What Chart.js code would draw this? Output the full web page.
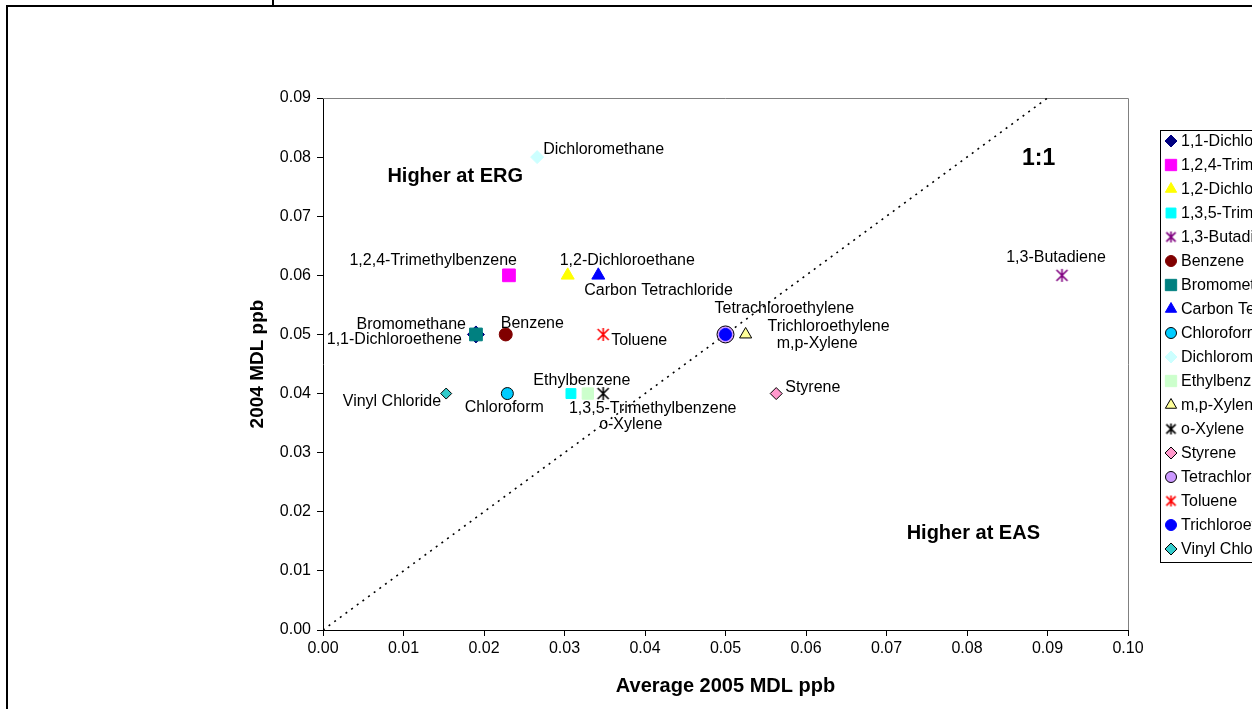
<!DOCTYPE html>
<html>
<head>
<meta charset="utf-8">
<script src="https://cdn.jsdelivr.net/npm/chart.js@4"></script>
<style>
  body { margin: 0; background: #ffffff; overflow: hidden; }
  canvas { display: block; }
</style>
</head>
<body>
<canvas id="mdlChart" width="1252" height="709"></canvas>
<script>
// Compounds, in legend order
const compounds = [
  "1,1-Dichloroethene", "1,2,4-Trimethylbenzene", "1,2-Dichloroethane",
  "1,3,5-Trimethylbenzene", "1,3-Butadiene", "Benzene", "Bromomethane",
  "Carbon Tetrachloride", "Chloroform", "Dichloromethane", "Ethylbenzene",
  "m,p-Xylene", "o-Xylene", "Styrene", "Tetrachloroethylene", "Toluene",
  "Trichloroethylene", "Vinyl Chloride",
];
// Average 2005 MDL (ppb)
const avg2005 = [
  0.019, 0.0231, 0.0304, 0.0308, 0.0918, 0.0227, 0.019, 0.0342, 0.0229,
  0.0266, 0.0329, 0.0525, 0.0348, 0.0563, 0.05, 0.0348, 0.05, 0.0153,
];
// 2004 MDL (ppb)
const mdl2004 = [
  0.05, 0.06, 0.06, 0.04, 0.06, 0.05, 0.05, 0.06, 0.04,
  0.08, 0.04, 0.05, 0.04, 0.04, 0.05, 0.05, 0.05, 0.04,
];
const xTicks = [0, 0.01, 0.02, 0.03, 0.04, 0.05, 0.06, 0.07, 0.08, 0.09, 0.1];
const yTicks = [0, 0.01, 0.02, 0.03, 0.04, 0.05, 0.06, 0.07, 0.08, 0.09];
const oneToOne = [{ x: 0, y: 0 }, { x: 0.09, y: 0.09 }];

// Excel-like asterisk marker (vertical bar + X)
function asterisk(color, r) {
  const c = document.createElement("canvas");
  const s = Math.ceil(2 * r + 4);
  c.width = s;
  c.height = s;
  const g = c.getContext("2d");
  const m = s / 2;
  g.strokeStyle = color;
  g.lineWidth = 1.6;
  g.beginPath();
  g.moveTo(m, m - r);
  g.lineTo(m, m + r);
  g.moveTo(m - r * 0.85, m - r * 0.85);
  g.lineTo(m + r * 0.85, m + r * 0.85);
  g.moveTo(m + r * 0.85, m - r * 0.85);
  g.lineTo(m - r * 0.85, m + r * 0.85);
  g.stroke();
  return c;
}

// marker look per compound (r = plot size, lr = legend size)
const markers = [
  { style: "rectRot", fill: "#000080", line: "#000080", r: 8.5, lr: 6 },
  { style: "rect", fill: "#ff00ff", line: "#ff00ff", r: 9, lr: 8 },
  { style: "triangle", fill: "#ffff00", line: "#ffff00", r: 7.5, lr: 6.5 },
  { style: "rect", fill: "#00ffff", line: "#00ffff", r: 7, lr: 7 },
  { style: asterisk("#800080", 6.5), legend: asterisk("#800080", 5.5), fill: "#800080", line: "#800080" },
  { style: "circle", fill: "#800000", line: "#800000", r: 6.5, lr: 5.5 },
  { style: "rect", fill: "#008080", line: "#008080", r: 9, lr: 8 },
  { style: "triangle", fill: "#0000ff", line: "#0000ff", r: 7.5, lr: 6.5 },
  { style: "circle", fill: "#00ccff", line: "#000000", r: 6, lr: 5.5 },
  { style: "rectRot", fill: "#ccffff", line: "#ccffff", r: 6.5, lr: 6 },
  { style: "rect", fill: "#ccffcc", line: "#ccffcc", r: 8, lr: 8 },
  { style: "triangle", fill: "#ffff99", line: "#000000", r: 7, lr: 6.5 },
  { style: asterisk("#000000", 6.5), legend: asterisk("#000000", 5.5), fill: "#000000", line: "#000000" },
  { style: "rectRot", fill: "#ff99cc", line: "#000000", r: 6, lr: 6 },
  { style: "circle", fill: "#cc99ff", line: "#000000", r: 8.5, lr: 5.5 },
  { style: asterisk("#ff0000", 6.5), legend: asterisk("#ff0000", 5.5), fill: "#ff0000", line: "#ff0000" },
  { style: "circle", fill: "#0000ff", line: "#0000ff", r: 6, lr: 5.5 },
  { style: "rectRot", fill: "#33cccc", line: "#000000", r: 5.5, lr: 6 },
];

// where each point label sits relative to its marker
const labelPlace = [
  { align: "right", dx: -14, dy: 5 },
  { align: "right", dx: 8, dy: -15 },
  { align: "left", dx: -8, dy: -15 },
  { align: "left", dx: -2, dy: 15 },
  { align: "center", dx: -6, dy: -18 },
  { align: "left", dx: -5, dy: -11 },
  { align: "right", dx: -10, dy: -10 },
  { align: "left", dx: -14, dy: 15 },
  { align: "center", dx: -3, dy: 14 },
  { align: "left", dx: 6, dy: -8 },
  { align: "center", dx: -6, dy: -13 },
  { align: "left", dx: 31, dy: 9 },
  { align: "left", dx: -4, dy: 31 },
  { align: "left", dx: 9, dy: -6 },
  { align: "left", dx: -11, dy: -26 },
  { align: "left", dx: 8, dy: 6 },
  { align: "left", dx: 42, dy: -8 },
  { align: "right", dx: -5, dy: 8 },
];

const FONT = "'Liberation Sans', Arial, sans-serif";

const datasets = compounds.map((name, i) => ({
  label: name,
  data: [{ x: avg2005[i], y: mdl2004[i] }],
  pointStyle: markers[i].style,
  pointRadius: markers[i].r || 7,
  pointBackgroundColor: markers[i].fill,
  pointBorderColor: markers[i].line,
  pointBorderWidth: 1,
  showLine: false,
  order: compounds.length - i,
}));

datasets.push({
  label: "1:1",
  type: "line",
  data: oneToOne,
  borderColor: "#000000",
  borderWidth: 1.6,
  borderDash: [2, 5],
  pointRadius: 0,
  fill: false,
  order: 100,
});

// frame, plot border and legend box
const decorations = {
  id: "decorations",
  beforeDatasetsDraw(chart) {
    const { ctx, chartArea } = chart;
    ctx.save();
    ctx.strokeStyle = "#808080";
    ctx.lineWidth = 1;
    ctx.beginPath();
    ctx.moveTo(chartArea.left, chartArea.top + 0.5);
    ctx.lineTo(chartArea.right + 0.5, chartArea.top + 0.5);
    ctx.lineTo(chartArea.right + 0.5, chartArea.bottom);
    ctx.stroke();
    ctx.restore();
  },
  afterDraw(chart) {
    const ctx = chart.ctx;
    ctx.save();
    // outer frame
    ctx.strokeStyle = "#000000";
    ctx.lineWidth = 2;
    ctx.beginPath();
    ctx.moveTo(7, 709);
    ctx.lineTo(7, 6);
    ctx.lineTo(1252, 6);
    ctx.moveTo(273, 0);
    ctx.lineTo(273, 6);
    ctx.stroke();

    // legend
    ctx.lineWidth = 1;
    ctx.strokeRect(1160.5, 130.5, 120, 432);
    ctx.font = "16px " + FONT;
    ctx.textAlign = "left";
    ctx.textBaseline = "middle";
    compounds.forEach((name, i) => {
      const y = 141 + i * 24;
      const m = markers[i];
      ctx.fillStyle = m.fill;
      ctx.strokeStyle = m.line;
      ctx.lineWidth = 1;
      Chart.helpers.drawPoint(ctx, {
        pointStyle: m.legend || m.style,
        radius: m.lr || 6,
        rotation: 0,
        borderWidth: 1,
      }, 1171, y);
      ctx.fillStyle = "#000000";
      ctx.fillText(name, 1181, y + 1);
    });
    ctx.restore();
  },
};

// point labels and annotations
const annotations = {
  id: "annotations",
  afterDatasetsDraw(chart) {
    const { ctx, scales } = chart;
    ctx.save();
    ctx.fillStyle = "#000000";
    ctx.textBaseline = "middle";
    ctx.font = "16px " + FONT;
    compounds.forEach((name, i) => {
      const p = labelPlace[i];
      ctx.textAlign = p.align;
      ctx.fillText(
        name,
        scales.x.getPixelForValue(avg2005[i]) + p.dx,
        scales.y.getPixelForValue(mdl2004[i]) + p.dy
      );
    });
    ctx.font = "bold 20px " + FONT;
    ctx.textAlign = "left";
    ctx.fillText("Higher at ERG", scales.x.getPixelForValue(0.008), scales.y.getPixelForValue(0.0767));
    ctx.fillText("Higher at EAS", scales.x.getPixelForValue(0.0725), scales.y.getPixelForValue(0.0164));
    ctx.font = "bold 23px " + FONT;
    ctx.textAlign = "center";
    ctx.fillText("1:1", scales.x.getPixelForValue(0.0889), scales.y.getPixelForValue(0.0798));
    ctx.restore();
  },
};

const mdlCtx = document.getElementById("mdlChart").getContext("2d");
window.mdlChart = new Chart(mdlCtx, {
  type: "scatter",
  data: { datasets: datasets },
  plugins: [decorations, annotations],
  options: {
    responsive: false,
    animation: false,
    layout: {
      padding: { left: 240, top: 98, right: 124, bottom: 0 },
    },
    scales: {
      x: {
        type: "linear",
        min: 0,
        max: 0.1,
        afterBuildTicks: (scale) => {
          scale.ticks = xTicks.map((v) => ({ value: v }));
        },
        afterFit: (scale) => {
          scale.height = 79;
        },
        grid: {
          drawOnChartArea: false,
          drawTicks: true,
          tickLength: 6,
          color: "#000000",
        },
        border: { color: "#000000", width: 1 },
        ticks: {
          color: "#000000",
          padding: 3,
          maxRotation: 0,
          font: { size: 16, family: FONT },
          callback: (v) => Number(v).toFixed(2),
        },
        title: {
          display: true,
          text: "Average 2005 MDL ppb",
          color: "#000000",
          padding: { top: 4, bottom: 11 },
          font: { size: 20, weight: "bold", family: FONT },
        },
      },
      y: {
        type: "linear",
        min: 0,
        max: 0.09,
        afterBuildTicks: (scale) => {
          scale.ticks = yTicks.map((v) => ({ value: v }));
        },
        afterFit: (scale) => {
          scale.width = 83;
        },
        grid: {
          drawOnChartArea: false,
          drawTicks: true,
          tickLength: 6,
          color: "#000000",
        },
        border: { color: "#000000", width: 1 },
        ticks: {
          color: "#000000",
          padding: 6,
          font: { size: 16, family: FONT },
          callback: (v) => Number(v).toFixed(2),
        },
        title: {
          display: true,
          text: "2004 MDL ppb",
          color: "#000000",
          padding: { top: 6, bottom: 4 },
          font: { size: 19, weight: "bold", family: FONT },
        },
      },
    },
    plugins: {
      legend: { display: false },
      tooltip: { enabled: false },
    },
  },
});
</script>
</body>
</html>
